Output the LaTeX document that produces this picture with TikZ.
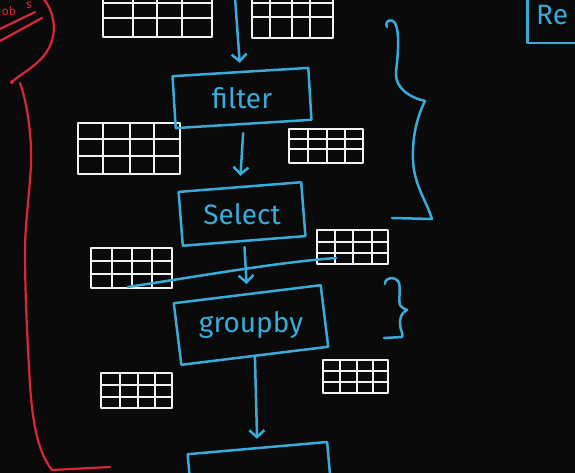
\documentclass[tikz,border=0pt]{standalone}
\usepackage{fontspec}
\setmainfont{Fira Sans}
\usetikzlibrary{arrows.meta}
\definecolor{board}{HTML}{0A0A0A}
\definecolor{chalkblue}{HTML}{3AABD8}
\definecolor{chalkred}{HTML}{D9263A}
\definecolor{chalkwhite}{HTML}{F2F2F2}
\newcommand\mytable[6]{%
  \draw[tbl] (#1,#3) rectangle (#2,#4);
  \foreach \xx in {#5} {\draw[tbl] (\xx,#3) -- (\xx,#4);}
  \foreach \yy in {#6} {\draw[tbl] (#1,\yy) -- (#2,\yy);}
}
\tikzset{
  tbl/.style={draw=chalkwhite, line width=2.4pt, line cap=round, line join=round},
  opbox/.style={draw=chalkblue, line width=2.5pt, minimum width=#1, line join=round, inner sep=0pt},
  optext/.style={text=chalkblue, font=\fontsize{28}{30}\selectfont, inner sep=0pt},
  flow/.style={draw=chalkblue, line width=2.5pt, line cap=round,
    -{Straight Barb[length=7pt,width=15pt,line width=2.5pt]}},
  bluepen/.style={draw=chalkblue, line width=2.5pt, line cap=round, line join=round},
  redpen/.style={draw=chalkred, line width=2.2pt, line cap=round, line join=round},
  redtext/.style={text=chalkred, font=\fontsize{12}{13}\selectfont, inner sep=0pt}
}
\begin{document}
\begin{tikzpicture}[x=1pt,y=-1pt]
\fill[board] (0,0) rectangle (575,473);
\useasboundingbox (0,0) rectangle (575,473);
\clip (0,0) rectangle (575,473);

% tables
\mytable{103}{212}{-5}{37}{133,157,182}{3,18}
\mytable{252}{333}{-5}{38}{270,292,310}{3,17}
\mytable{78}{180}{123}{174}{103,130,154}{139,156}
\mytable{289}{363}{129}{163}{308,327,345}{139,149}
\mytable{91}{172}{248}{288}{112,132,152}{261,274}
\mytable{317}{388}{230}{264}{335,353,372}{242,253}
\mytable{101}{172}{373}{408}{120,138,155}{385,397}
\mytable{323}{388}{360}{393}{340,357,373}{371,382}

% operation boxes
\node[opbox=136pt, minimum height=52pt, rotate=3.5] (filter) at (242,98) {};
\node[optext] (filtertext) at (filter.center) {filter};
\node[opbox=123pt, minimum height=54pt, rotate=4.5] (select) at (242,214) {};
\node[optext] (selecttext) at (select.center) {Select};
\node[opbox=148pt, minimum height=62pt, rotate=7] (groupby) at (251,325) {};
\node[optext] (groupbytext) at (groupby.center) {groupby};
\node[opbox=140pt, minimum height=60pt, rotate=5] (next) at (260,478) {};
\node[opbox=110pt, minimum height=70pt, anchor=north west] (result) at (526,-28) {};
\node[optext, anchor=west] (retext) at (536,15) {Re};

% connectors
\coordinate (src) at (235,-2);
\draw[flow, shorten >=8pt] (src) -- (filter.north);
\draw[flow, shorten <=8pt, shorten >=10pt] (filter.south) -- (select.north);
\draw[flow, shorten <=5pt, shorten >=9pt] (select.south) -- (groupby.north);
\draw[flow, shorten <=0pt, shorten >=8pt] (groupby.south) -- (next.north);

% crossing stroke
\coordinate (cs1) at (128,287);
\coordinate (cs2) at (336,258);
\draw[bluepen] (cs1) .. controls (200,276) and (280,262) .. (cs2);

% large brace
\draw[bluepen] (387,27) .. controls (384,20) and (392,18) .. (395,23)
  .. controls (400,32) and (398,55) .. (396,72)
  .. controls (395,90) and (412,98) .. (425,101)
  .. controls (418,115) and (412,135) .. (413,160)
  .. controls (414,185) and (426,200) .. (432,219)
  -- (392,218);
% small brace
\draw[bluepen] (385,284) .. controls (384,278) and (396,275) .. (399,283)
  .. controls (401,292) and (398,300) .. (400,305)
  .. controls (402,308) and (405,309) .. (407,310)
  .. controls (401,313) and (400,318) .. (400,324)
  .. controls (400,330) and (404,335) .. (402,337)
  -- (384,338);

% red outline
\draw[redpen] (0,29) -- (35,12);
\draw[redpen] (0,41) -- (42,18);
\draw[redpen] (43,-2) .. controls (56,14) and (60,40) .. (40,60)
  .. controls (30,70) and (18,76) .. (12,82);
\fill[chalkred] (12,82) circle (2pt);
\draw[redpen] (20,83) .. controls (28,105) and (32,140) .. (31,165)
  .. controls (29,200) and (25,225) .. (25,250)
  .. controls (25,300) and (28,350) .. (30,385)
  .. controls (33,430) and (40,455) .. (52,470)
  -- (110,467);
\node[redtext] (jobtext) at (9,11) {ob};
\node[redtext] (jobtext2) at (29,5) {s};
\end{tikzpicture}
\end{document}
